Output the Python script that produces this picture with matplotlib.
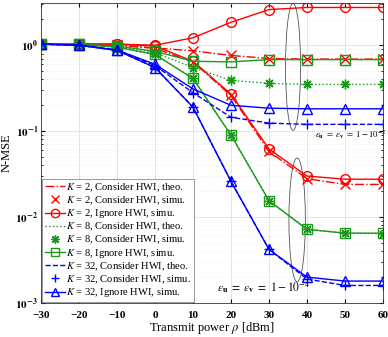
import matplotlib
matplotlib.use('Agg')
import numpy as np
import matplotlib.pyplot as plt
from matplotlib.patches import Ellipse
from matplotlib.lines import Line2D
from matplotlib.ticker import FuncFormatter

plt.rcParams['font.family'] = ['Liberation Serif', 'DejaVu Serif']
plt.rcParams['mathtext.fontset'] = 'stix'

power = [-30, -20, -10, 0, 10, 20, 30, 40, 50, 60]

# eps_u = eps_v = 1 - 1e-2
k2_theo_a = [1.03, 1.03, 1.0, 0.93, 0.86, 0.76, 0.70, 0.69, 0.69, 0.69]
k2_simu_a = [1.03, 1.03, 1.0, 0.93, 0.86, 0.77, 0.70, 0.69, 0.69, 0.69]
k2_ign_a = [1.03, 1.03, 1.03, 1.0, 1.22, 1.85, 2.6, 2.75, 2.75, 2.75]
k8_theo_a = [1.03, 1.02, 0.97, 0.82, 0.55, 0.39, 0.36, 0.35, 0.35, 0.35]
k8_simu_a = [1.03, 1.02, 0.97, 0.82, 0.55, 0.39, 0.36, 0.35, 0.35, 0.35]
k8_ign_a = [1.03, 1.02, 0.98, 0.85, 0.65, 0.64, 0.68, 0.68, 0.68, 0.68]
k32_theo_a = [1.03, 1.0, 0.88, 0.58, 0.28, 0.145, 0.124, 0.12, 0.12, 0.12]
k32_simu_a = [1.03, 1.0, 0.88, 0.58, 0.28, 0.145, 0.124, 0.12, 0.12, 0.12]
k32_ign_a = [1.03, 1.0, 0.88, 0.60, 0.31, 0.20, 0.185, 0.182, 0.182, 0.182]

# eps_u = eps_v = 1 - 1e-4
k2_theo_b = [1.03, 1.03, 1.0, 0.92, 0.64, 0.26, 0.058, 0.028, 0.024, 0.024]
k2_simu_b = [1.03, 1.03, 1.0, 0.92, 0.64, 0.26, 0.058, 0.028, 0.024, 0.024]
k2_ign_b = [1.03, 1.03, 1.03, 0.98, 0.65, 0.27, 0.062, 0.030, 0.0276, 0.0276]
k8_theo_b = [1.03, 1.02, 0.95, 0.78, 0.41, 0.09, 0.0155, 0.0072, 0.0065, 0.0064]
k8_simu_b = [1.03, 1.02, 0.95, 0.78, 0.41, 0.09, 0.0155, 0.0072, 0.0065, 0.0064]
k8_ign_b = [1.03, 1.02, 0.95, 0.78, 0.41, 0.09, 0.0155, 0.0072, 0.0065, 0.0065]
k32_theo_b = [1.03, 1.0, 0.87, 0.55, 0.19, 0.026, 0.0042, 0.0019, 0.0016, 0.0016]
k32_simu_b = [1.03, 1.0, 0.87, 0.55, 0.19, 0.026, 0.0042, 0.0019, 0.0016, 0.0016]
k32_ign_b = [1.03, 1.0, 0.87, 0.55, 0.19, 0.026, 0.0042, 0.0020, 0.0018, 0.0018]

labels = ['$K$ = 2, Consider HWI, theo.', '$K$ = 2, Consider HWI, simu.',
          '$K$ = 2, Ignore HWI, simu.', '$K$ = 8, Consider HWI, theo.',
          '$K$ = 8, Consider HWI, simu.', '$K$ = 8, Ignore HWI, simu.',
          '$K$ = 32, Consider HWI, theo.', '$K$ = 32, Consider HWI, simu.',
          '$K$ = 32, Ignore HWI, simu.']

red, green, blue = '#ff0000', '#1a9a1a', '#0000ff'
ms = 7
lw = 1.0
asterisk = (8, 2, 0)

fig = plt.figure(figsize=(3.88, 3.37), dpi=100)
ax = fig.add_axes([41 / 388, 34 / 337, 342 / 388, 300 / 337])

groups = [
    (red, '-.', 'x', 'o', [k2_theo_a, k2_simu_a, k2_ign_a], [k2_theo_b, k2_simu_b, k2_ign_b]),
    (green, ':', asterisk, 's', [k8_theo_a, k8_simu_a, k8_ign_a], [k8_theo_b, k8_simu_b, k8_ign_b]),
    (blue, '--', '+', '^', [k32_theo_a, k32_simu_a, k32_ign_a], [k32_theo_b, k32_simu_b, k32_ign_b]),
]

for c, ls, sm, im, a, b in groups:
    for theo, simu, ign in (a, b):
        ax.plot(power, theo, color=c, ls=ls, lw=lw)
        ax.plot(power, simu, color=c, ls='none', marker=sm, ms=ms, mew=1.0)
        ax.plot(power, ign, color=c, ls='-', lw=lw, marker=im, ms=ms,
                mfc='none', mew=1.0)

handles = []
for c, ls, sm, im, a, b in groups:
    handles.append(Line2D([], [], color=c, ls=ls, lw=lw))
    handles.append(Line2D([], [], color=c, ls='none', marker=sm, ms=6, mew=1.0))
    handles.append(Line2D([], [], color=c, ls='-', lw=lw, marker=im, ms=6,
                          mfc='none', mew=1.0))

ax.set_yscale('log')
ax.set_xlim(-30, 60)
ax.set_ylim(1e-3, 3.1)
ax.set_xticks(range(-30, 61, 10))
ax.yaxis.set_major_formatter(
    FuncFormatter(lambda v, p: r'$\mathbf{10^{%d}}$' % int(round(np.log10(v)))))
ax.grid(True, which='major', color='#e0e0e0', lw=0.6)
ax.grid(True, which='minor', axis='y', color='#ececec', lw=0.5, ls=':')
ax.set_axisbelow(True)
ax.tick_params(which='both', direction='in', top=True, right=True,
               labelsize=8, pad=2)
ax.tick_params(axis='x', pad=5.5)
ax.tick_params(which='major', length=3)
ax.tick_params(which='minor', length=1.5)
for t in ax.get_xticklabels():
    t.set_fontweight('bold')
for sp in ax.spines.values():
    sp.set_color('#333333')
    sp.set_linewidth(0.6)

ax.set_xlabel(r'Transmit power $\rho$ [dBm]', fontsize=9, labelpad=0)
ax.set_ylabel('N-MSE', fontsize=9, labelpad=2)

ax.add_patch(Ellipse((0.737, 0.787), 0.044, 0.423, transform=ax.transAxes,
                     fill=False, ec='#555555', lw=0.6))
ax.add_patch(Ellipse((0.749, 0.277), 0.048, 0.413, transform=ax.transAxes,
                     fill=False, ec='#555555', lw=0.6))
ax.text(0.80, 0.56, r'$\varepsilon_{\mathbf{u}}\ =\ \varepsilon_{\mathbf{v}}\ =\ 1-10^{-2}$',
        transform=ax.transAxes, fontsize=6.3, ha='left', va='center')
ax.text(0.515, 0.053, r'$\varepsilon_{\mathbf{u}}\ =\ \varepsilon_{\mathbf{v}}\ =\ 1-10^{-4}$',
        transform=ax.transAxes, fontsize=8.3, ha='left', va='center')

leg = ax.legend(handles, labels, loc='lower left', fontsize=7.6,
                borderaxespad=0.1, handlelength=1.9, handletextpad=0.15,
                labelspacing=0.05, borderpad=0.25, fancybox=False,
                framealpha=1, edgecolor='#888888')
leg.get_frame().set_linewidth(0.6)

fig.savefig('out.png', dpi=100)
